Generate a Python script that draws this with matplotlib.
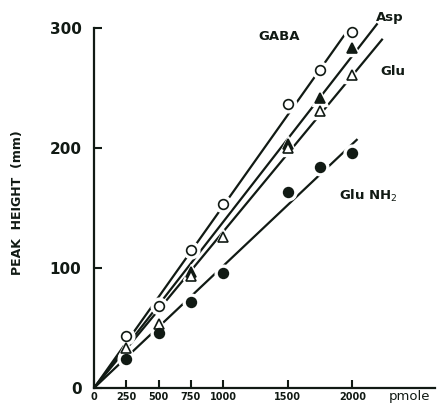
import numpy as np
import matplotlib.pyplot as plt

plt.rcParams['font.family'] = ['DejaVu Sans']

# amount injected (pmole) and peak heights (mm)
pmole = [250, 500, 750, 1000, 1500, 1750, 2000]
gaba = [43, 68, 115, 153, 237, 265, 297]
glu = [33, 53, 93, 126, 200, 231, 261]
glunh2 = [24, 46, 72, 96, 163, 184, 196]
asp_pmole = [750, 1500, 1750, 2000]
asp = [97, 203, 242, 283]

# how far each regression line is drawn
line_end = {"GABA": 1960, "Asp": 2195, "Glu": 2235, "GluNH2": 2040}

ink = "#111a14"

fig = plt.figure(figsize=(4.37, 4.08), dpi=100)
ax = fig.add_axes([94 / 437, 20 / 408, 341 / 437, 372 / 408])

series = [
    ("GABA", pmole, gaba, "o", "white"),
    ("Asp", asp_pmole, asp, "^", ink),
    ("Glu", pmole, glu, "^", "white"),
    ("GluNH2", pmole, glunh2, "o", ink),
]

for name, x, y, marker, face in series:
    x = np.array(x, float)
    y = np.array(y, float)
    slope = np.sum(x * y) / np.sum(x * x)
    xs = np.array([0, line_end[name]])
    ax.plot(xs, slope * xs, color=ink, lw=1.6, zorder=2, solid_capstyle="butt")

# white halos break the lines around the points
for name, x, y, marker, face in series:
    ax.plot(x, y, ls="none", marker=marker, ms=12, mfc="white", mec="white", zorder=3)
for name, x, y, marker, face in series:
    ax.plot(x, y, ls="none", marker=marker, ms=7, mfc=face, mec=ink, mew=1.2, zorder=4)

ax.set_xlim(0, 2640)
ax.set_ylim(0, 310)
ax.spines["top"].set_visible(False)
ax.spines["right"].set_visible(False)
ax.spines["left"].set_bounds(0, 300)
for s in ("left", "bottom"):
    ax.spines[s].set_linewidth(1.6)
    ax.spines[s].set_color(ink)

ax.set_xticks([0, 250, 500, 750, 1000, 1500, 2000])
ax.set_xticklabels(["0", "250", "500", "750", "1000", "1500", "2000"])
ax.set_yticks([0, 100, 200, 300])
ax.tick_params(axis="x", direction="in", length=6, width=1.5, color=ink,
               labelsize=7, labelcolor=ink, pad=3)
ax.tick_params(axis="y", direction="in", length=6, width=1.5, color=ink,
               labelsize=11, labelcolor=ink, pad=9)
for lbl in ax.get_xticklabels() + ax.get_yticklabels():
    lbl.set_fontweight("bold")

fig.text(18 / 437, 1 - 203 / 408, "PEAK  HEIGHT  (mm)", rotation=90,
         ha="center", va="center", fontsize=9, fontweight="bold", color=ink)

ax.text(2280, -2, "pmole", fontsize=9.5, color=ink, ha="left", va="top")
ax.text(1270, 290, "GABA", fontsize=9.5, fontweight="bold", color=ink)
ax.text(2180, 306, "Asp", fontsize=9.5, fontweight="bold", color=ink)
ax.text(2220, 261, "Glu", fontsize=9.5, fontweight="bold", color=ink)
ax.text(1900, 157, "Glu NH$_2$", fontsize=9.5, fontweight="bold", color=ink)

fig.savefig("out.png", dpi=100)
